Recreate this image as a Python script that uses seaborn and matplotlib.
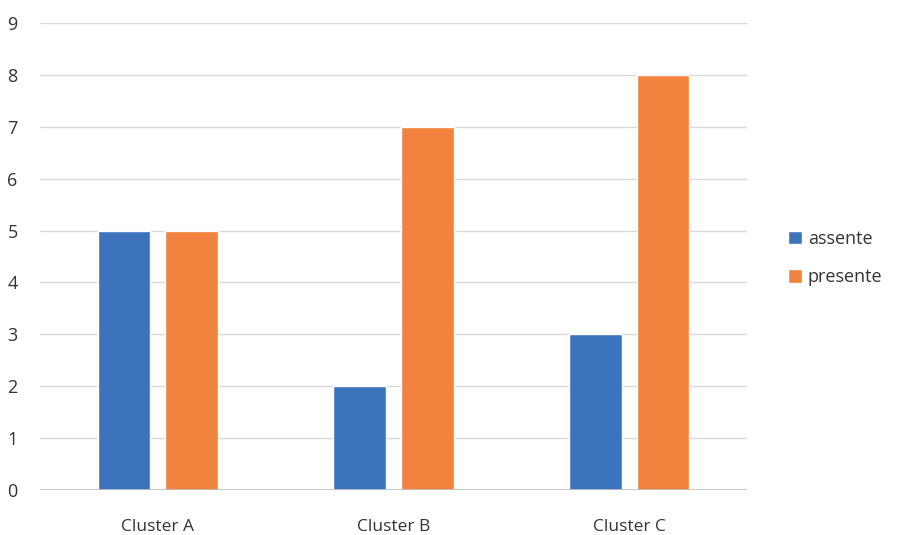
import matplotlib
matplotlib.use("Agg")
import matplotlib.pyplot as plt
import seaborn as sns
import pandas as pd

clusters = ["Cluster A", "Cluster B", "Cluster C"]
assente = [5, 2, 3]
presente = [5, 7, 8]
series_names = ["assente", "presente"]
colors = ["#3C73BD", "#F2833E"]
y_ticks = list(range(0, 10))

df = pd.DataFrame({
    "cluster": clusters * 2,
    "stato": [series_names[0]] * 3 + [series_names[1]] * 3,
    "valore": assente + presente,
})

sns.set_theme(style="white")
plt.rcParams["font.family"] = ["Open Sans", "DejaVu Sans"]

fig = plt.figure(figsize=(9, 5.35), dpi=100)
ax = fig.add_axes([0.0444, 0.0841, 0.7856, 0.8729])

sns.barplot(data=df, x="cluster", y="valore", hue="stato",
            palette=colors, width=0.573, gap=0.22, ax=ax,
            saturation=1, zorder=2)

ax.set_ylim(0, 9)
ax.set_yticks(y_ticks)
ax.set_xlim(-0.5, 2.5)
ax.grid(axis="y", color="#d9d9d9", linewidth=1, zorder=0)
ax.axhline(0, color="#bfbfbf", linewidth=1.2, zorder=3)
for s in ax.spines.values():
    s.set_visible(False)
ax.set_xlabel("")
ax.set_ylabel("")
ax.tick_params(axis="y", length=0, pad=16, labelsize=13, labelcolor="#333333")
ax.tick_params(axis="x", length=0, pad=21, labelsize=12.5, labelcolor="#333333")

leg = ax.legend(loc="center left", bbox_to_anchor=(1.035, 0.497), frameon=False,
                fontsize=13, handlelength=0.75, handleheight=0.75,
                handletextpad=0.35, labelspacing=1.15)
for t in leg.get_texts():
    t.set_color("#333333")

fig.savefig("out.png", dpi=100)
